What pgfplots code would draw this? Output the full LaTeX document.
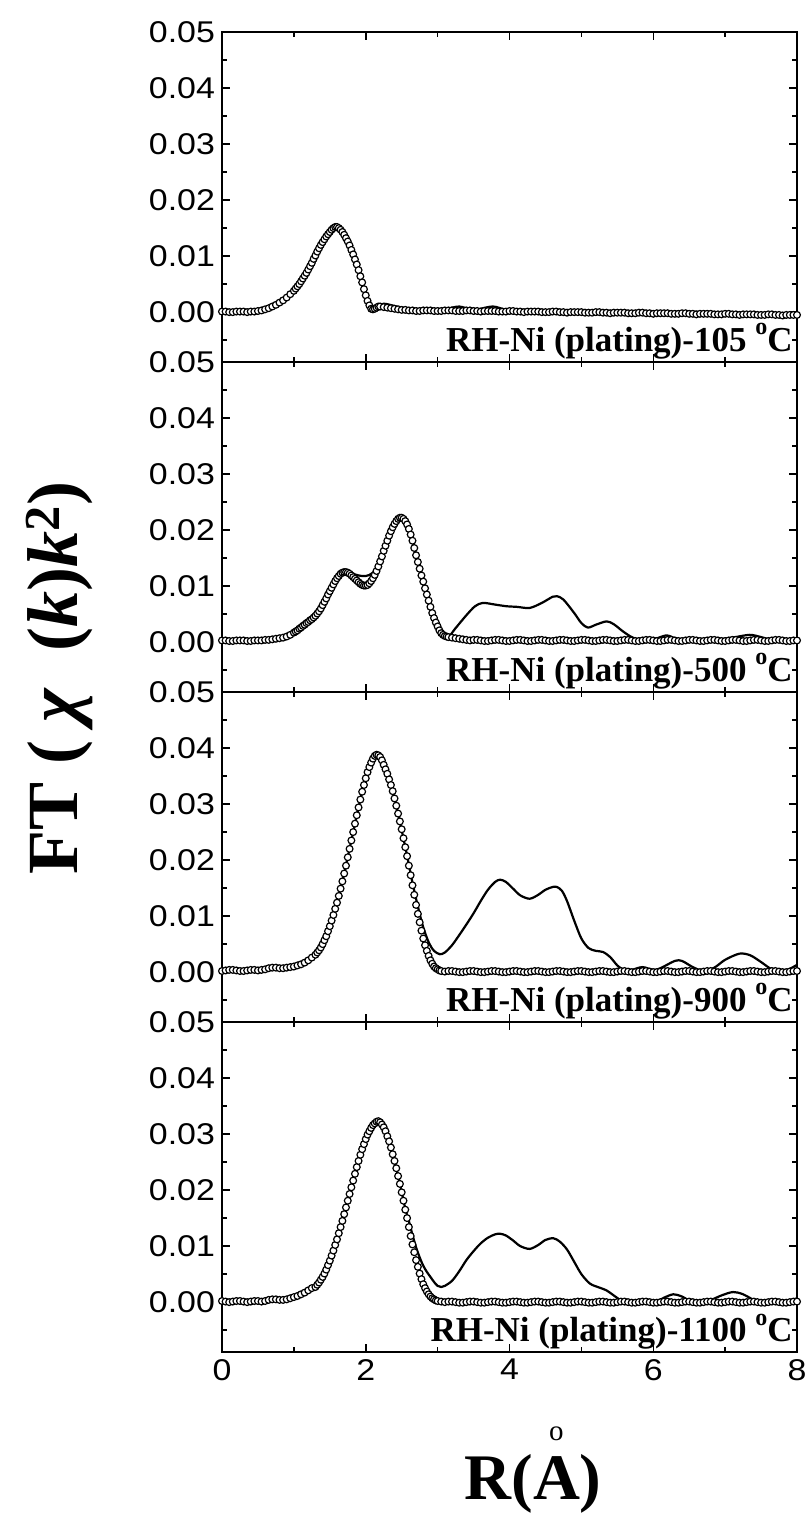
\documentclass[border=0pt]{standalone}
\usepackage{graphicx}
\usepackage{pgfplots}
\pgfplotsset{compat=1.18}
\usepackage{fontspec}
\setmainfont{Liberation Sans}
\newfontfamily\tnr{Liberation Serif}
\newcommand\tl[1]{\scalebox{1.13}[1]{#1}}
\newcommand\dg{\raisebox{8.5pt}{\fontsize{12}{12}\selectfont o}}

\pgfplotsset{
  panel/.style={
    width=287.5pt, height=165pt, scale only axis, anchor=south west,
    xmin=0, xmax=8, ymin=-0.0089, ymax=0.05,
    xtick={0,2,4,6,8}, minor xtick={1,3,5,7},
    ytick={0,0.01,0.02,0.03,0.04,0.05},
    yticklabels={\tl{0.00},\tl{0.01},\tl{0.02},\tl{0.03},\tl{0.04},\tl{0.05}},
    minor ytick={-0.005,0.005,0.015,0.025,0.035,0.045},
    scaled y ticks=false, scaled x ticks=false,
    tick align=inside, xtick pos=both, ytick pos=both,
    major tick length=3.8pt, minor tick length=2.4pt,
    axis line style={line width=0.75pt},
    every tick/.append style={black, line width=0.75pt},
    tick label style={font=\fontsize{15}{17}\selectfont},
    clip mode=individual,
  },
  fitline/.style={black, line width=1.1pt, smooth, no markers},
  circ/.style={only marks, mark=*, mark size=1.7pt, mark options={fill=white, draw=black, line width=0.6pt}},
}
\tikzset{lab/.style={anchor=base east, inner sep=0pt, font=\tnr\bfseries\fontsize{17.5}{20}\selectfont}}

\begin{document}
\begin{tikzpicture}
\useasboundingbox (-111pt,-81.5pt) rectangle (294pt,676pt);

% ---------------- panel 1: 105 C
\begin{axis}[panel, at={(0pt,495pt)}, xticklabels={}]
\addplot[fitline] coordinates {(0,0.0001)(0.5,0.0002)(0.7,0.0010)(0.9,0.0026)(1.1,0.0055)(1.3,0.0101)(1.45,0.0135)(1.6,0.0152)(1.75,0.0126)(1.9,0.0075)(2.0,0.0030)(2.08,0.0006)(2.15,0.0010)(2.25,0.0015)(2.4,0.0011)(2.6,0.0005)(2.9,0.0003)(3.1,0.0005)(3.3,0.0010)(3.5,0.0004)(3.77,0.0010)(4.0,0.0003)(4.5,0.0001)(5.0,0.0000)(5.5,-0.0001)(6.0,-0.0002)(6.3,-0.0001)(6.55,0.0001)(6.8,-0.0002)(7.2,-0.0004)(7.6,-0.0004)(8.0,-0.0005)};
\addplot[circ] coordinates {(0.00,0.0001)(0.05,0.0001)(0.10,0.0000)(0.15,0.0000)(0.20,0.0001)(0.25,0.0001)(0.30,0.0001)(0.35,0.0000)(0.40,0.0001)(0.45,0.0001)(0.50,0.0002)(0.55,0.0003)(0.60,0.0005)(0.65,0.0007)(0.70,0.0010)(0.75,0.0013)(0.80,0.0017)(0.85,0.0021)(0.90,0.0026)(0.95,0.0032)(1.00,0.0038)(1.025,0.0042)(1.05,0.0046)(1.075,0.0050)(1.10,0.0055)(1.125,0.0060)(1.15,0.0065)(1.175,0.0070)(1.20,0.0076)(1.225,0.0082)(1.25,0.0088)(1.275,0.0095)(1.30,0.0101)(1.325,0.0108)(1.35,0.0114)(1.375,0.0120)(1.40,0.0125)(1.425,0.0130)(1.45,0.0135)(1.475,0.0139)(1.50,0.0143)(1.525,0.0147)(1.55,0.0150)(1.575,0.0152)(1.60,0.0152)(1.625,0.0150)(1.65,0.0147)(1.675,0.0143)(1.70,0.0138)(1.725,0.0132)(1.75,0.0126)(1.775,0.0119)(1.80,0.0111)(1.825,0.0103)(1.85,0.0094)(1.875,0.0085)(1.90,0.0075)(1.925,0.0064)(1.95,0.0053)(1.975,0.0041)(2.00,0.0030)(2.025,0.0020)(2.05,0.0012)(2.075,0.0006)(2.10,0.0005)(2.125,0.0006)(2.15,0.0008)(2.175,0.0010)(2.20,0.0010)(2.25,0.0009)(2.30,0.0008)(2.35,0.0007)(2.40,0.0006)(2.45,0.0005)(2.50,0.0004)
(2.55,0.0004)(2.60,0.0003)(2.65,0.0003)(2.70,0.0002)(2.75,0.0002)(2.80,0.0003)(2.85,0.0003)(2.90,0.0003)(2.95,0.0002)(3.00,0.0002)(3.05,0.0002)(3.10,0.0003)(3.15,0.0003)(3.20,0.0003)(3.25,0.0002)(3.30,0.0002)(3.35,0.0002)(3.40,0.0003)(3.45,0.0003)(3.50,0.0002)(3.55,0.0002)(3.60,0.0001)(3.65,0.0002)(3.70,0.0002)(3.75,0.0002)(3.80,0.0002)(3.85,0.0001)(3.90,0.0001)(3.95,0.0001)(4.00,0.0002)(4.05,0.0002)(4.10,0.0001)(4.15,0.0001)(4.20,0.0000)(4.25,0.0001)(4.30,0.0001)(4.35,0.0001)(4.40,0.0001)(4.45,0.0000)(4.50,0.0000)(4.55,0.0000)(4.60,0.0001)(4.65,0.0001)(4.70,0.0000)(4.75,0.0000)(4.80,-0.0001)(4.85,0.0000)(4.90,0.0000)(4.95,0.0000)(5.00,0.0000)(5.05,-0.0001)(5.10,-0.0001)(5.15,-0.0001)(5.20,0.0000)(5.25,0.0000)(5.30,-0.0001)(5.35,-0.0001)(5.40,-0.0002)(5.45,-0.0001)(5.50,-0.0001)(5.55,-0.0001)(5.60,-0.0001)(5.65,-0.0002)(5.70,-0.0002)(5.75,-0.0002)(5.80,-0.0001)(5.85,-0.0001)(5.90,-0.0002)(5.95,-0.0002)(6.00,-0.0003)(6.05,-0.0002)(6.10,-0.0002)(6.15,-0.0002)(6.20,-0.0002)(6.25,-0.0003)(6.30,-0.0003)(6.35,-0.0003)(6.40,-0.0002)(6.45,-0.0002)(6.50,-0.0003)(6.55,-0.0003)(6.60,-0.0004)(6.65,-0.0003)(6.70,-0.0003)(6.75,-0.0003)(6.80,-0.0003)(6.85,-0.0004)(6.90,-0.0004)(6.95,-0.0004)(7.00,-0.0003)(7.05,-0.0003)(7.10,-0.0004)(7.15,-0.0004)(7.20,-0.0005)(7.25,-0.0004)(7.30,-0.0004)(7.35,-0.0004)(7.40,-0.0004)(7.45,-0.0005)(7.50,-0.0005)(7.55,-0.0005)(7.60,-0.0004)(7.65,-0.0004)(7.70,-0.0005)(7.75,-0.0005)(7.80,-0.0006)(7.85,-0.0005)(7.90,-0.0005)(7.95,-0.0005)(8.00,-0.0005)};
\node[lab] at (rel axis cs:0.993,0.0303) {RH-Ni (plating)-105 \dg C};
\end{axis}

% ---------------- panel 2: 500 C
\begin{axis}[panel, at={(0pt,330pt)}, xticklabels={}]
\addplot[fitline] coordinates {(0,0.0003)(0.5,0.0003)(0.8,0.0007)(1.0,0.0017)(1.2,0.0038)(1.35,0.0062)(1.45,0.0082)(1.55,0.0104)(1.65,0.0122)(1.72,0.0126)(1.8,0.0123)(1.9,0.0119)(2.0,0.0118)(2.1,0.0124)(2.2,0.0145)(2.3,0.0181)(2.4,0.0211)(2.48,0.0222)(2.55,0.0216)(2.65,0.0181)(2.75,0.0131)(2.85,0.0085)(2.95,0.0043)(3.05,0.0017)(3.15,0.0010)(3.25,0.0025)(3.4,0.0048)(3.52,0.0064)(3.63,0.0070)(3.8,0.0067)(3.96,0.0064)(4.1,0.0063)(4.28,0.0061)(4.45,0.0070)(4.6,0.0081)(4.66,0.0082)(4.75,0.0076)(4.9,0.0052)(5.0,0.0034)(5.09,0.0026)(5.2,0.0031)(5.35,0.0037)(5.45,0.0032)(5.58,0.0019)(5.7,0.0009)(5.8,0.0005)(6.0,0.0005)(6.18,0.0012)(6.3,0.0007)(6.4,0.0004)(6.6,0.0003)(6.85,0.0004)(7.1,0.0008)(7.34,0.0013)(7.5,0.0009)(7.67,0.0003)(7.85,0.0003)(8.0,0.0003)};
\addplot[circ] coordinates {(0.00,0.0003)(0.05,0.0003)(0.10,0.0002)(0.15,0.0002)(0.20,0.0003)(0.25,0.0003)(0.30,0.0003)(0.35,0.0002)(0.40,0.0002)(0.45,0.0003)(0.50,0.0003)(0.55,0.0003)(0.60,0.0004)(0.65,0.0004)(0.70,0.0005)(0.75,0.0006)(0.80,0.0007)(0.85,0.0008)(0.90,0.0010)(0.95,0.0013)(1.00,0.0017)(1.025,0.0019)(1.05,0.0021)(1.075,0.0024)(1.10,0.0026)(1.125,0.0029)(1.15,0.0031)(1.175,0.0034)(1.20,0.0036)(1.225,0.0039)(1.25,0.0041)(1.275,0.0044)(1.30,0.0047)(1.325,0.0051)(1.35,0.0055)(1.375,0.0060)(1.40,0.0066)(1.425,0.0072)(1.45,0.0078)(1.475,0.0085)(1.50,0.0091)(1.525,0.0097)(1.55,0.0103)(1.575,0.0109)(1.60,0.0114)(1.625,0.0118)(1.65,0.0122)(1.675,0.0124)(1.70,0.0125)(1.725,0.0125)(1.75,0.0124)(1.775,0.0122)(1.80,0.0119)(1.825,0.0116)(1.85,0.0113)(1.875,0.0110)(1.90,0.0107)(1.925,0.0104)(1.95,0.0102)(1.975,0.0101)(2.00,0.0101)(2.025,0.0102)(2.05,0.0105)(2.075,0.0109)(2.10,0.0114)(2.125,0.0120)(2.15,0.0127)(2.175,0.0135)(2.20,0.0144)(2.225,0.0153)(2.25,0.0163)(2.275,0.0172)(2.30,0.0181)(2.325,0.0190)(2.35,0.0198)(2.375,0.0205)(2.40,0.0211)(2.425,0.0216)(2.45,0.0220)(2.475,0.0222)(2.50,0.0222)(2.525,0.0220)(2.55,0.0216)(2.575,0.0210)(2.60,0.0202)(2.625,0.0192)(2.65,0.0181)(2.675,0.0168)(2.70,0.0155)(2.725,0.0143)(2.75,0.0131)(2.775,0.0119)(2.80,0.0108)(2.825,0.0096)(2.85,0.0085)(2.875,0.0074)(2.90,0.0063)(2.925,0.0052)(2.95,0.0043)(2.975,0.0035)(3.00,0.0028)(3.025,0.0021)(3.05,0.0016)(3.075,0.0013)(3.10,0.0011)(3.125,0.0010)(3.15,0.0009)(3.20,0.0008)(3.25,0.0007)(3.30,0.0006)(3.35,0.0005)(3.40,0.0004)
(3.45,0.0003)(3.50,0.0004)(3.55,0.0004)(3.60,0.0003)(3.65,0.0002)(3.70,0.0002)(3.75,0.0003)(3.80,0.0004)(3.85,0.0004)(3.90,0.0003)(3.95,0.0002)(4.00,0.0002)(4.05,0.0003)(4.10,0.0004)(4.15,0.0004)(4.20,0.0003)(4.25,0.0002)(4.30,0.0002)(4.35,0.0003)(4.40,0.0004)(4.45,0.0004)(4.50,0.0003)(4.55,0.0002)(4.60,0.0002)(4.65,0.0003)(4.70,0.0004)(4.75,0.0004)(4.80,0.0003)(4.85,0.0002)(4.90,0.0002)(4.95,0.0003)(5.00,0.0004)(5.05,0.0004)(5.10,0.0003)(5.15,0.0002)(5.20,0.0002)(5.25,0.0003)(5.30,0.0004)(5.35,0.0004)(5.40,0.0003)(5.45,0.0002)(5.50,0.0002)(5.55,0.0003)(5.60,0.0004)(5.65,0.0004)(5.70,0.0003)(5.75,0.0002)(5.80,0.0002)(5.85,0.0003)(5.90,0.0004)(5.95,0.0004)(6.00,0.0003)(6.05,0.0002)(6.10,0.0002)(6.15,0.0003)(6.20,0.0004)(6.25,0.0004)(6.30,0.0003)(6.35,0.0002)(6.40,0.0002)(6.45,0.0003)(6.50,0.0004)(6.55,0.0004)(6.60,0.0003)(6.65,0.0002)(6.70,0.0002)(6.75,0.0003)(6.80,0.0004)(6.85,0.0004)(6.90,0.0003)(6.95,0.0002)(7.00,0.0002)(7.05,0.0003)(7.10,0.0004)(7.15,0.0004)(7.20,0.0003)(7.25,0.0002)(7.30,0.0002)(7.35,0.0003)(7.40,0.0004)(7.45,0.0004)(7.50,0.0003)(7.55,0.0002)(7.60,0.0002)(7.65,0.0003)(7.70,0.0004)(7.75,0.0004)(7.80,0.0003)(7.85,0.0002)(7.90,0.0002)(7.95,0.0003)(8.00,0.0003)};
\node[lab] at (rel axis cs:0.993,0.0303) {RH-Ni (plating)-500 \dg C};
\end{axis}

% ---------------- panel 3: 900 C
\begin{axis}[panel, at={(0pt,165pt)}, xticklabels={}]
\addplot[fitline] coordinates {(0,0.0002)(0.4,0.0004)(0.7,0.0008)(1.0,0.0010)(1.2,0.0021)(1.35,0.0039)(1.5,0.0082)(1.65,0.0149)(1.8,0.0235)(1.95,0.0322)(2.05,0.0366)(2.15,0.0388)(2.25,0.0370)(2.4,0.0310)(2.55,0.0223)(2.65,0.0160)(2.72,0.0120)(2.8,0.0080)(2.88,0.0052)(2.95,0.0038)(3.03,0.0032)(3.1,0.0035)(3.2,0.0048)(3.3,0.0066)(3.4,0.0085)(3.5,0.0105)(3.6,0.0127)(3.7,0.0147)(3.8,0.0161)(3.87,0.0165)(3.95,0.0161)(4.05,0.0149)(4.15,0.0137)(4.28,0.0131)(4.4,0.0138)(4.5,0.0147)(4.6,0.0152)(4.66,0.0152)(4.73,0.0145)(4.8,0.0127)(4.9,0.0092)(5.0,0.0060)(5.1,0.0043)(5.2,0.0038)(5.3,0.0036)(5.4,0.0027)(5.5,0.0012)(5.6,0.0003)(5.7,0.0004)(5.85,0.0009)(6.0,0.0004)(6.1,0.0007)(6.3,0.0020)(6.4,0.0020)(6.55,0.0009)(6.7,0.0002)(6.85,0.0008)(7.0,0.0022)(7.2,0.0033)(7.35,0.0030)(7.5,0.0018)(7.65,0.0005)(7.8,0.0002)(7.9,0.0006)(8.0,0.0013)};
\addplot[circ] coordinates {(0.00,0.0002)(0.05,0.0003)(0.10,0.0004)(0.15,0.0004)(0.20,0.0003)(0.25,0.0002)(0.30,0.0002)(0.35,0.0003)(0.40,0.0004)(0.45,0.0004)(0.50,0.0003)(0.55,0.0004)(0.60,0.0005)(0.65,0.0007)(0.70,0.0008)(0.75,0.0008)(0.80,0.0007)(0.85,0.0007)(0.90,0.0008)(0.95,0.0009)(1.00,0.0010)(1.05,0.0012)(1.10,0.0014)(1.15,0.0017)(1.20,0.0021)(1.25,0.0026)(1.30,0.0031)(1.325,0.0035)(1.35,0.0039)(1.375,0.0044)(1.40,0.0050)(1.425,0.0057)(1.45,0.0064)(1.475,0.0073)(1.50,0.0082)(1.525,0.0092)(1.55,0.0102)(1.575,0.0113)(1.60,0.0124)(1.625,0.0136)(1.65,0.0149)(1.675,0.0162)(1.70,0.0176)(1.725,0.0190)(1.75,0.0205)(1.775,0.0220)(1.80,0.0235)(1.825,0.0250)(1.85,0.0265)(1.875,0.0280)(1.90,0.0294)(1.925,0.0308)(1.95,0.0322)(1.975,0.0334)(2.00,0.0346)(2.025,0.0357)(2.05,0.0366)(2.075,0.0374)(2.10,0.0381)(2.125,0.0386)(2.15,0.0388)(2.175,0.0387)(2.20,0.0384)(2.225,0.0378)(2.25,0.0370)(2.275,0.0362)(2.30,0.0354)(2.325,0.0344)(2.35,0.0334)(2.375,0.0323)(2.40,0.0310)(2.425,0.0297)(2.45,0.0283)(2.475,0.0269)(2.50,0.0255)(2.525,0.0239)(2.55,0.0223)(2.575,0.0207)(2.60,0.0190)(2.625,0.0173)(2.65,0.0155)(2.675,0.0138)(2.70,0.0120)(2.725,0.0104)(2.75,0.0089)(2.775,0.0074)(2.80,0.0060)(2.825,0.0048)(2.85,0.0038)(2.875,0.0029)(2.90,0.0021)(2.925,0.0015)(2.95,0.0010)(2.975,0.0007)(3.00,0.0005)(3.025,0.0003)(3.05,0.0002)
(3.10,0.0001)(3.15,0.0002)(3.20,0.0002)(3.25,0.0001)(3.30,0.0000)(3.35,0.0000)(3.40,0.0001)(3.45,0.0002)(3.50,0.0002)(3.55,0.0001)(3.60,0.0000)(3.65,0.0000)(3.70,0.0001)(3.75,0.0002)(3.80,0.0002)(3.85,0.0001)(3.90,0.0000)(3.95,0.0000)(4.00,0.0001)(4.05,0.0002)(4.10,0.0002)(4.15,0.0001)(4.20,0.0000)(4.25,0.0000)(4.30,0.0001)(4.35,0.0002)(4.40,0.0002)(4.45,0.0001)(4.50,0.0000)(4.55,0.0000)(4.60,0.0001)(4.65,0.0002)(4.70,0.0002)(4.75,0.0001)(4.80,0.0000)(4.85,0.0000)(4.90,0.0001)(4.95,0.0002)(5.00,0.0002)(5.05,0.0001)(5.10,0.0000)(5.15,0.0000)(5.20,0.0001)(5.25,0.0002)(5.30,0.0002)(5.35,0.0001)(5.40,0.0000)(5.45,0.0000)(5.50,0.0001)(5.55,0.0002)(5.60,0.0002)(5.65,0.0001)(5.70,0.0000)(5.75,0.0000)(5.80,0.0001)(5.85,0.0002)(5.90,0.0002)(5.95,0.0001)(6.00,0.0000)(6.05,0.0000)(6.10,0.0001)(6.15,0.0002)(6.20,0.0002)(6.25,0.0001)(6.30,0.0000)(6.35,0.0000)(6.40,0.0001)(6.45,0.0002)(6.50,0.0002)(6.55,0.0001)(6.60,0.0000)(6.65,0.0000)(6.70,0.0001)(6.75,0.0002)(6.80,0.0002)(6.85,0.0001)(6.90,0.0000)(6.95,0.0000)(7.00,0.0001)(7.05,0.0002)(7.10,0.0002)(7.15,0.0001)(7.20,0.0000)(7.25,0.0000)(7.30,0.0001)(7.35,0.0002)(7.40,0.0002)(7.45,0.0001)(7.50,0.0000)(7.55,0.0000)(7.60,0.0001)(7.65,0.0002)(7.70,0.0002)(7.75,0.0001)(7.80,0.0000)(7.85,0.0000)(7.90,0.0001)(7.95,0.0002)(8.00,0.0002)};
\node[lab] at (rel axis cs:0.993,0.0303) {RH-Ni (plating)-900 \dg C};
\end{axis}

% ---------------- panel 4: 1100 C
\begin{axis}[panel, at={(0pt,0pt)}, xticklabels={\tl{0},\tl{2},\tl{4},\tl{6},\tl{8}}]
\addplot[fitline] coordinates {(0,0.0002)(0.4,0.0001)(0.7,0.0005)(1.0,0.0009)(1.2,0.0021)(1.35,0.0035)(1.5,0.0074)(1.65,0.0134)(1.8,0.0205)(1.95,0.0273)(2.05,0.0305)(2.175,0.0323)(2.3,0.0296)(2.45,0.0225)(2.55,0.0167)(2.6,0.0145)(2.65,0.0120)(2.7,0.0098)(2.75,0.0080)(2.8,0.0065)(2.85,0.0054)(2.9,0.0045)(2.95,0.0036)(3.0,0.0029)(3.05,0.0027)(3.1,0.0029)(3.2,0.0038)(3.3,0.0055)(3.4,0.0075)(3.5,0.0091)(3.6,0.0105)(3.7,0.0115)(3.8,0.0121)(3.87,0.0122)(3.95,0.0119)(4.05,0.0110)(4.15,0.0100)(4.28,0.0095)(4.4,0.0102)(4.5,0.0111)(4.61,0.0114)(4.7,0.0108)(4.8,0.0094)(4.9,0.0072)(5.0,0.0050)(5.12,0.0033)(5.25,0.0026)(5.35,0.0021)(5.45,0.0012)(5.58,0.0001)(5.7,0.0000)(5.87,0.0004)(6.05,0.0002)(6.15,0.0008)(6.28,0.0014)(6.4,0.0010)(6.55,0.0000)(6.76,0.0002)(6.95,0.0012)(7.11,0.0018)(7.25,0.0014)(7.48,0.0000)(7.81,0.0000)(8.0,0.0007)};
\addplot[circ] coordinates {(0.00,0.0002)(0.05,0.0001)(0.10,0.0000)(0.15,0.0001)(0.20,0.0002)(0.25,0.0002)(0.30,0.0001)(0.35,0.0000)(0.40,0.0001)(0.45,0.0002)(0.50,0.0002)(0.55,0.0001)(0.60,0.0002)(0.65,0.0004)(0.70,0.0005)(0.75,0.0005)(0.80,0.0004)(0.85,0.0004)(0.90,0.0005)(0.95,0.0007)(1.00,0.0009)(1.05,0.0011)(1.10,0.0014)(1.15,0.0017)(1.20,0.0021)(1.25,0.0025)(1.30,0.0027)(1.325,0.0031)(1.35,0.0035)(1.375,0.0040)(1.40,0.0045)(1.425,0.0051)(1.45,0.0058)(1.475,0.0066)(1.50,0.0074)(1.525,0.0083)(1.55,0.0092)(1.575,0.0102)(1.60,0.0112)(1.625,0.0123)(1.65,0.0134)(1.675,0.0145)(1.70,0.0157)(1.725,0.0169)(1.75,0.0181)(1.775,0.0193)(1.80,0.0205)(1.825,0.0217)(1.85,0.0229)(1.875,0.0241)(1.90,0.0252)(1.925,0.0263)(1.95,0.0273)(1.975,0.0282)(2.00,0.0291)(2.025,0.0299)(2.05,0.0305)(2.075,0.0311)(2.10,0.0316)(2.125,0.0319)(2.15,0.0322)(2.175,0.0323)(2.20,0.0321)(2.225,0.0317)(2.25,0.0312)(2.275,0.0305)(2.30,0.0296)(2.325,0.0287)(2.35,0.0276)(2.375,0.0264)(2.40,0.0252)(2.425,0.0239)(2.45,0.0225)(2.475,0.0211)(2.50,0.0196)(2.525,0.0181)(2.55,0.0165)(2.575,0.0150)(2.60,0.0134)(2.625,0.0118)(2.65,0.0103)(2.675,0.0089)(2.70,0.0075)(2.725,0.0063)(2.75,0.0051)(2.775,0.0041)(2.80,0.0032)(2.825,0.0025)(2.85,0.0019)(2.875,0.0014)(2.90,0.0010)(2.925,0.0007)(2.95,0.0005)(2.975,0.0003)(3.00,0.0002)(3.05,0.0001)
(3.10,0.0000)(3.15,0.0001)(3.20,0.0001)(3.25,0.0000)(3.30,-0.0001)(3.35,-0.0001)(3.40,0.0000)(3.45,0.0001)(3.50,0.0001)(3.55,0.0000)(3.60,-0.0001)(3.65,-0.0001)(3.70,0.0000)(3.75,0.0001)(3.80,0.0001)(3.85,0.0000)(3.90,-0.0001)(3.95,-0.0001)(4.00,0.0000)(4.05,0.0001)(4.10,0.0001)(4.15,0.0000)(4.20,-0.0001)(4.25,-0.0001)(4.30,0.0000)(4.35,0.0001)(4.40,0.0001)(4.45,0.0000)(4.50,-0.0001)(4.55,-0.0001)(4.60,0.0000)(4.65,0.0001)(4.70,0.0001)(4.75,0.0000)(4.80,-0.0001)(4.85,-0.0001)(4.90,0.0000)(4.95,0.0001)(5.00,0.0001)(5.05,0.0000)(5.10,-0.0001)(5.15,-0.0001)(5.20,0.0000)(5.25,0.0001)(5.30,0.0001)(5.35,0.0000)(5.40,-0.0001)(5.45,-0.0001)(5.50,0.0000)(5.55,0.0001)(5.60,0.0001)(5.65,0.0000)(5.70,-0.0001)(5.75,-0.0001)(5.80,0.0000)(5.85,0.0001)(5.90,0.0001)(5.95,0.0000)(6.00,-0.0001)(6.05,-0.0001)(6.10,0.0000)(6.15,0.0001)(6.20,0.0001)(6.25,0.0000)(6.30,-0.0001)(6.35,-0.0001)(6.40,0.0000)(6.45,0.0001)(6.50,0.0001)(6.55,0.0000)(6.60,-0.0001)(6.65,-0.0001)(6.70,0.0000)(6.75,0.0001)(6.80,0.0001)(6.85,0.0000)(6.90,-0.0001)(6.95,-0.0001)(7.00,0.0000)(7.05,0.0001)(7.10,0.0001)(7.15,0.0000)(7.20,-0.0001)(7.25,-0.0001)(7.30,0.0000)(7.35,0.0001)(7.40,0.0001)(7.45,0.0000)(7.50,-0.0001)(7.55,-0.0001)(7.60,0.0000)(7.65,0.0001)(7.70,0.0001)(7.75,0.0000)(7.80,-0.0001)(7.85,-0.0001)(7.90,0.0000)(7.95,0.0001)(8.00,0.0001)};
\node[lab] at (rel axis cs:0.993,0.0303) {RH-Ni (plating)-1100 \dg C};
\end{axis}

% axis titles
\node[anchor=base, font=\tnr\bfseries\fontsize{32.5}{36}\selectfont] at (155.5pt,-74pt)
  {R(\ooalign{\hfil\raisebox{0.92em}{\mdseries\fontsize{14.5}{15}\selectfont o}\hfil\cr A\cr})};
\node[rotate=90, anchor=base, font=\tnr\bfseries\fontsize{36}{40}\selectfont] at (-72pt,337pt)
  {FT (\ \textit{χ}\ \ (\textit{k})\textit{k}\textsuperscript{2})};
\end{tikzpicture}
\end{document}
